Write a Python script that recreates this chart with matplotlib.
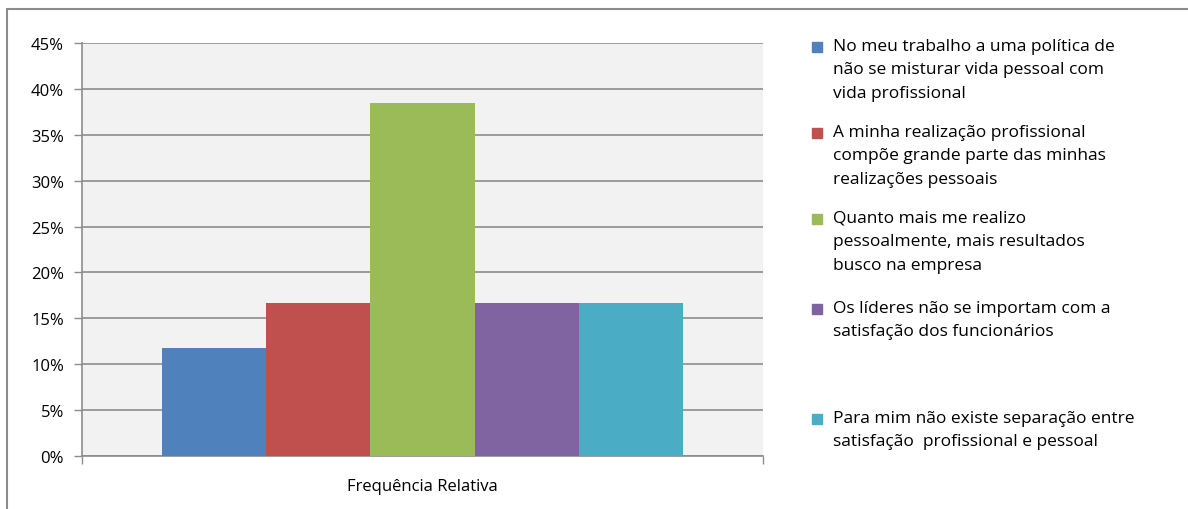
import matplotlib
matplotlib.use("Agg")
import matplotlib.pyplot as plt
from matplotlib.patches import Rectangle
from matplotlib.ticker import MultipleLocator, FuncFormatter

categoria = "Frequência Relativa"
respostas = [
    "No meu trabalho a uma política de\nnão se misturar vida pessoal com\nvida profissional",
    "A minha realização profissional\ncompõe grande parte das minhas\nrealizações pessoais",
    "Quanto mais me realizo\npessoalmente, mais resultados\nbusco na empresa",
    "Os líderes não se importam com a\nsatisfação dos funcionários",
    "Para mim não existe separação entre\nsatisfação  profissional e pessoal",
]
valores = [11.8, 16.7, 38.5, 16.7, 16.7]
cores = ["#4f81bd", "#c0504d", "#9bbb59", "#8064a2", "#4bacc6"]

plt.rcParams["font.family"] = ["Open Sans", "DejaVu Sans"]

W, H = 1188, 510
fig = plt.figure(figsize=(W / 100, H / 100), dpi=100)

# moldura externa
fig.patches.append(Rectangle((7 / W, -0.05), 1.1, 1 - 10 / H + 0.05,
                             transform=fig.transFigure, fill=False,
                             edgecolor="#8c8c8c", linewidth=1.5))

ax = fig.add_axes([82 / W, 1 - 457 / H, (763 - 82) / W, (457 - 44) / H])
ax.set_facecolor("#f2f2f2")

n = len(valores)
larg = 0.7665 / n
for i, (v, c) in enumerate(zip(valores, cores)):
    x = (i - (n - 1) / 2) * larg
    ax.bar(x, v, width=larg, color=c, zorder=3, label=respostas[i])

ax.set_xlim(-0.5, 0.5)
ax.set_ylim(0, 45)
ax.yaxis.set_major_locator(MultipleLocator(5))
ax.yaxis.set_major_formatter(FuncFormatter(lambda v, p: f"{v:.0f}%"))
ax.grid(axis="y", color="#8c8c8c", linewidth=1.2, zorder=1)
ax.set_xticks([-0.5, 0.5])
ax.set_xticklabels(["", ""])
ax.tick_params(axis="x", length=6, color="#8c8c8c", width=1)
ax.tick_params(axis="y", length=6, color="#8c8c8c", width=1, labelsize=12, pad=7)
for s in ["top", "right"]:
    ax.spines[s].set_visible(False)
for s in ["left", "bottom"]:
    ax.spines[s].set_color("#8c8c8c")
    ax.spines[s].set_linewidth(1.2)
ax.text(0.5, -0.072, categoria, transform=ax.transAxes, ha="center", va="center",
        fontsize=12)

# legenda
ys = [48, 134, 220, 310, 420]
for y, lab, c in zip(ys, respostas, cores):
    fig.patches.append(Rectangle((812 / W, 1 - (y + 5) / H), 10 / W, 10 / H,
                                 transform=fig.transFigure, color=c))
    fig.text(833 / W, 1 - (y - 9) / H, lab, ha="left", va="top",
             fontsize=12.5, linespacing=1.62)

fig.savefig("out.png", dpi=100)
